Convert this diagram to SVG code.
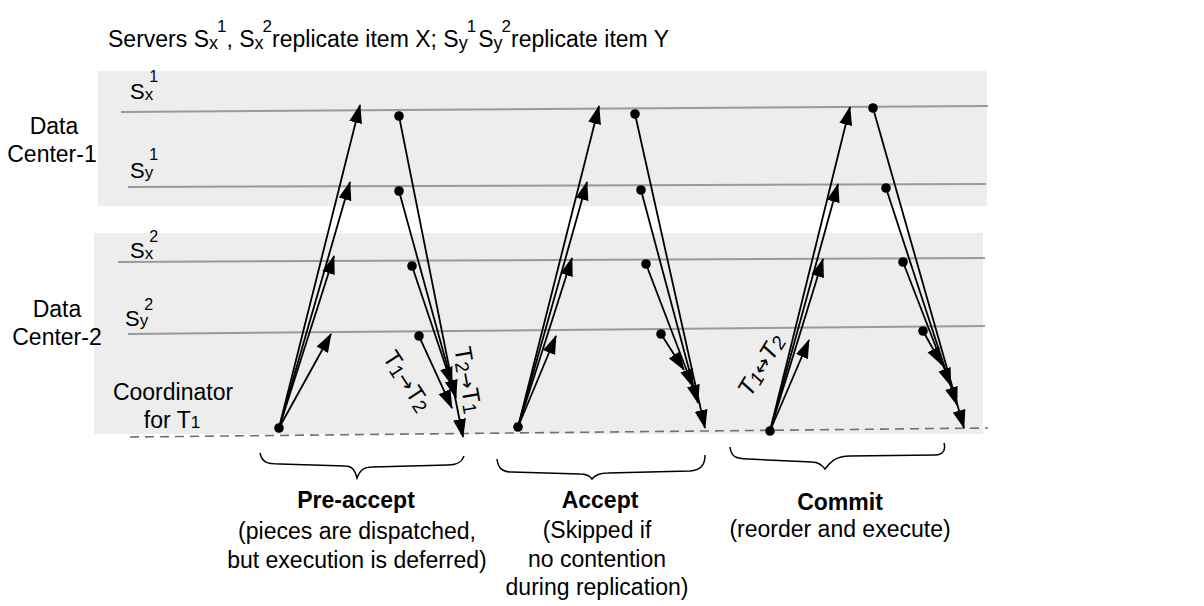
<svg xmlns="http://www.w3.org/2000/svg" width="1204" height="606" viewBox="0 0 1204 606">
<style>
text{font-family:"Liberation Sans",Arial,sans-serif;fill:#000}
.t{font-size:23px}
.b{font-size:23px;font-weight:bold}
.lane{stroke:#9a9a9a;stroke-width:2;fill:none}
.dc{fill:#ededed}
.arr{stroke:#000;stroke-width:1.8;fill:none;marker-end:url(#ah)}
.dot{fill:#000}
.brace{stroke:#000;stroke-width:1.5;fill:none}
.srv{font-size:22px}
.sub{font-size:18px}
.sup{font-size:17px}
.ssub{font-size:17px}
.ssup{font-size:16px}
.ord{font-size:24px}
.od{font-size:19px}
.ar{font-family:"DejaVu Sans",sans-serif;font-size:20px;font-style:normal}
</style>
<defs>
<marker id="ah" markerUnits="userSpaceOnUse" markerWidth="19" markerHeight="14" refX="18" refY="7" orient="auto">
<path d="M0,0.5 L19,7 L0,13.5 Z" fill="#000"/>
</marker>
</defs>
<rect width="1204" height="606" fill="#fff"/>

<g id="title">
<text class="t" x="108" y="47">Servers S<tspan class="sub" dy="2">x</tspan><tspan class="sup" dx="-1" dy="-17">1</tspan><tspan dy="15">, S</tspan><tspan class="sub" dy="2">x</tspan><tspan class="sup" dx="-1" dy="-17">2</tspan><tspan dy="15">replicate item X; S</tspan><tspan class="sub" dy="2">y</tspan><tspan class="sup" dx="-1" dy="-17">1</tspan><tspan dx="2" dy="15">S</tspan><tspan class="sub" dy="2">y</tspan><tspan class="sup" dx="-1" dy="-17">2</tspan><tspan dy="15">replicate item Y</tspan></text>
</g>

<g id="dc1">
<rect class="dc" x="98" y="71" width="889" height="135"/>
<text class="t" x="54" y="134" text-anchor="middle">Data</text>
<text class="t" x="52" y="162" text-anchor="middle">Center-1</text>
</g>
<g id="dc2">
<rect class="dc" x="94" y="233" width="889" height="201"/>
<text class="t" x="57" y="317" text-anchor="middle">Data</text>
<text class="t" x="57" y="345" text-anchor="middle">Center-2</text>
</g>

<g id="server-sx1">
<line class="lane" x1="121" y1="112" x2="988" y2="106"/>
<text class="srv" x="130" y="99">S<tspan class="ssub" dy="1">x</tspan><tspan class="ssup" dx="-4" dy="-18">1</tspan></text>
</g>
<g id="server-sy1">
<line class="lane" x1="128" y1="187" x2="986" y2="184"/>
<text class="srv" x="130" y="178">S<tspan class="ssub">y</tspan><tspan class="ssup" dx="-4" dy="-18">1</tspan></text>
</g>
<g id="server-sx2">
<line class="lane" x1="118" y1="262" x2="985" y2="258"/>
<text class="srv" x="130" y="258">S<tspan class="ssub" dy="1">x</tspan><tspan class="ssup" dx="-4" dy="-17">2</tspan></text>
</g>
<g id="server-sy2">
<line class="lane" x1="128" y1="334" x2="985" y2="326"/>
<text class="srv" x="125" y="326">S<tspan class="ssub">y</tspan><tspan class="ssup" dx="-4" dy="-16">2</tspan></text>
</g>
<g id="coordinator">
<line x1="130" y1="437" x2="988" y2="428" stroke="#707070" stroke-width="1.6" stroke-dasharray="9,6"/>
<text class="t" x="173" y="400" text-anchor="middle">Coordinator</text>
<text class="t" x="172" y="428" text-anchor="middle">for T<tspan font-size="17px">1</tspan></text>
</g>

<g id="connectors">
<!-- Pre-accept -->
<line class="arr" x1="279" y1="428" x2="360" y2="105"/>
<line class="arr" x1="279" y1="428" x2="350" y2="182"/>
<line class="arr" x1="279" y1="428" x2="334" y2="256"/>
<line class="arr" x1="279" y1="428" x2="331" y2="334"/>
<line class="arr" x1="399" y1="116" x2="463" y2="437"/>
<line class="arr" x1="399" y1="191" x2="456" y2="398"/>
<line class="arr" x1="412" y1="266" x2="452" y2="385"/>
<line class="arr" x1="419" y1="336" x2="452" y2="408"/>
<!-- Accept -->
<line class="arr" x1="518" y1="427" x2="599" y2="106"/>
<line class="arr" x1="518" y1="427" x2="587" y2="182"/>
<line class="arr" x1="518" y1="427" x2="572" y2="258"/>
<line class="arr" x1="518" y1="427" x2="556" y2="336"/>
<line class="arr" x1="635" y1="114" x2="705" y2="428"/>
<line class="arr" x1="641" y1="190" x2="698" y2="403"/>
<line class="arr" x1="646" y1="264" x2="693" y2="387"/>
<line class="arr" x1="661" y1="334" x2="684" y2="370"/>
<!-- Commit -->
<line class="arr" x1="770" y1="431" x2="850" y2="107"/>
<line class="arr" x1="770" y1="431" x2="838" y2="184"/>
<line class="arr" x1="770" y1="431" x2="823" y2="259"/>
<line class="arr" x1="770" y1="431" x2="809" y2="340"/>
<line class="arr" x1="873" y1="108" x2="964" y2="428"/>
<line class="arr" x1="886" y1="188" x2="957" y2="405"/>
<line class="arr" x1="903" y1="262" x2="951" y2="386"/>
<line class="arr" x1="923" y1="331" x2="942" y2="365"/>
</g>

<g id="dots">
<circle class="dot" cx="279" cy="428" r="4.8"/>
<circle class="dot" cx="399" cy="116" r="4.8"/>
<circle class="dot" cx="399" cy="191" r="4.8"/>
<circle class="dot" cx="412" cy="266" r="4.8"/>
<circle class="dot" cx="419" cy="336" r="4.8"/>
<circle class="dot" cx="518" cy="427" r="4.8"/>
<circle class="dot" cx="635" cy="114" r="4.8"/>
<circle class="dot" cx="641" cy="190" r="4.8"/>
<circle class="dot" cx="646" cy="264" r="4.8"/>
<circle class="dot" cx="661" cy="334" r="4.8"/>
<circle class="dot" cx="770" cy="431" r="4.8"/>
<circle class="dot" cx="873" cy="108" r="4.8"/>
<circle class="dot" cx="886" cy="188" r="4.8"/>
<circle class="dot" cx="903" cy="262" r="4.8"/>
<circle class="dot" cx="923" cy="331" r="4.8"/>
</g>

<g id="order-labels">
<text class="ord" text-anchor="middle" transform="translate(407,381) rotate(57)" dy="8">T<tspan class="od" dy="2">1</tspan><tspan class="ar" dy="-2">→</tspan>T<tspan class="od" dy="2">2</tspan></text>
<text class="ord" text-anchor="middle" transform="translate(468,380) rotate(80)" dy="8">T<tspan class="od" dy="2">2</tspan><tspan class="ar" dy="-2">→</tspan>T<tspan class="od" dy="2">1</tspan></text>
<text class="ord" font-style="italic" text-anchor="middle" transform="translate(761,365) rotate(-59)" dy="8">T<tspan class="od" dy="2">1</tspan><tspan class="ar" dy="-2">↔</tspan>T<tspan class="od" dy="2">2</tspan></text>
</g>

<g id="pre-accept">
<path class="brace" d="M260,453 C262,462 266,464 280,464 L345,466 C352,466 355,470 357,478 C360,470 364,467 372,467 L448,465 C458,465 462,462 464,456"/>
<text class="b" x="356" y="508" text-anchor="middle">Pre-accept</text>
<text class="t" x="357" y="539" text-anchor="middle">(pieces are dispatched,</text>
<text class="t" x="357" y="568" text-anchor="middle">but execution is deferred)</text>
</g>
<g id="accept">
<path class="brace" d="M497,459 C498,468 502,472 512,472 L580,474 C586,474 590,476 592,479 C595,475 599,473 608,473 L690,471 C700,470 705,466 705,455"/>
<text class="b" x="600" y="508" text-anchor="middle">Accept</text>
<text class="t" x="597" y="538" text-anchor="middle">(Skipped if</text>
<text class="t" x="597" y="567" text-anchor="middle">no contention</text>
<text class="t" x="597" y="595" text-anchor="middle">during replication)</text>
</g>
<g id="commit">
<path class="brace" d="M730,447 C731,456 735,459 748,459 L812,462 C818,462 822,465 825,469 C830,462 836,456 850,456 L935,455 C943,455 946,450 944,443"/>
<text class="b" x="840" y="510" text-anchor="middle">Commit</text>
<text class="t" x="840" y="537" text-anchor="middle">(reorder and execute)</text>
</g>
</svg>
